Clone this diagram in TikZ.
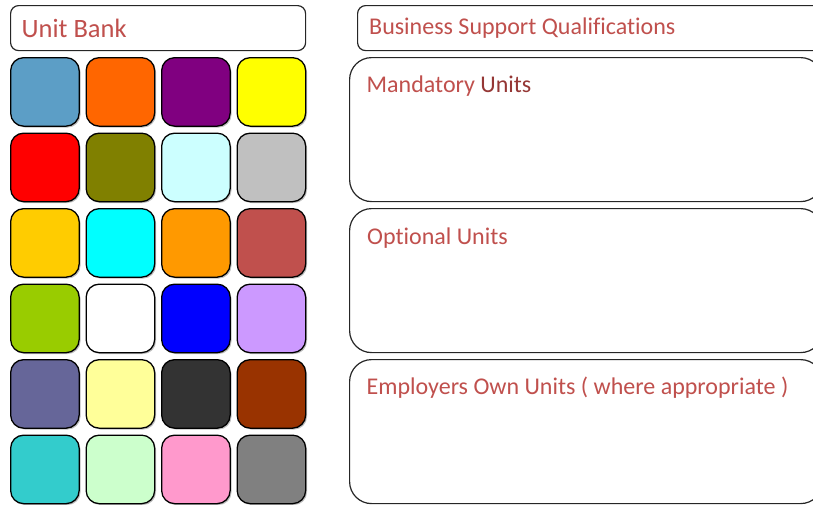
\documentclass[tikz,border=0pt]{standalone}
\usepackage{fontspec}
\setmainfont{Carlito}[Ligatures=NoCommon]
\usetikzlibrary{shadows}

\definecolor{labelred}{HTML}{C0504D}
\definecolor{darkred}{HTML}{953735}
\definecolor{framegray}{HTML}{262626}

\begin{document}
\begin{tikzpicture}[x=1pt,y=-1pt,
  panel/.style={draw=framegray, line width=1.2pt, fill=white,
    anchor=north west, inner sep=0pt},
  headbox/.style={panel, rounded corners=8pt, minimum height=45pt},
  groupbox/.style={panel, rounded corners=22pt, minimum height=144pt,
    minimum width=473pt},
  tile/.style={draw=black, line width=1.3pt, rounded corners=13pt,
    minimum width=68.5pt, minimum height=68.5pt, anchor=north west,
    inner sep=0pt,
    drop shadow={shadow xshift=1.4pt, shadow yshift=-1.4pt,
      fill=black, opacity=0.25}},
  label/.style={anchor=base west, inner sep=0pt, text=labelred,
    font=\fontsize{24}{29}\selectfont},
]
\useasboundingbox (0,0) rectangle (813,504);
\clip (0,0) rectangle (813,504);

% Unit bank header
\node[headbox, minimum width=295pt] (bank) at (10,5) {};
\node[label, font=\fontsize{26.5}{31}\selectfont] (banktxt) at (21.5,37) {Unit Bank};

% colour tiles of the unit bank, row by row
\foreach \r/\colA/\colB/\colC/\colD in {
  0/5C9EC6/FF6600/800080/FFFF00,
  1/FF0000/808000/CCFFFF/C0C0C0,
  2/FFCC00/00FFFF/FF9900/C0504D,
  3/99CC00/FFFFFF/0000FF/CC99FF,
  4/666699/FFFF99/333333/993300,
  5/33CCCC/CCFFCC/FF99CC/808080} {
  \foreach \c/\hex in {0/\colA,1/\colB,2/\colC,3/\colD} {
    \definecolor{tilefill}{HTML}{\hex}
    \node[tile, fill=tilefill] (tile-\r-\c) at ({10+75.5*\c},{57+75.5*\r}) {};
  }
}

% qualification header and unit groups
\node[headbox, minimum width=470pt] (bsq) at (357,5) {};
\node[label] (bsqtxt) at (369,34) {Business Support Qualifications};

\node[groupbox] (mand) at (349,57) {};
\node[label] (mandtxt) at (366.5,92) {Mandatory \textcolor{darkred}{Units}};

\node[groupbox] (opt) at (349,208) {};
\node[label] (opttxt) at (367,244) {Optional Units};

\node[groupbox] (emp) at (349,359) {};
\node[label] (emptxt) at (366.5,394) {Employers Own Units ( where appropriate )};
\end{tikzpicture}
\end{document}
